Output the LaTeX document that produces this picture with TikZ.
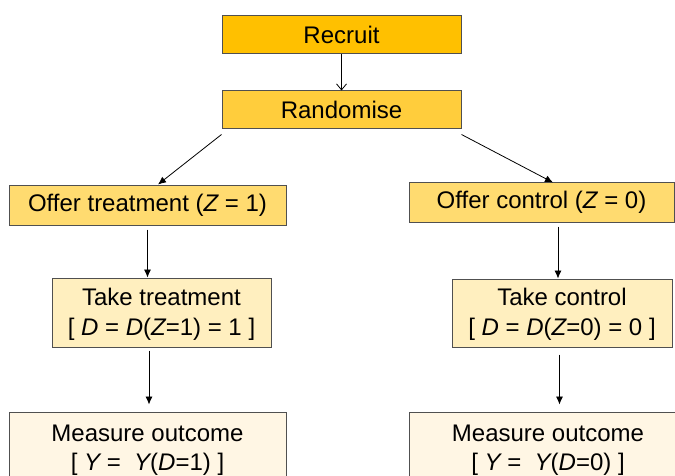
\documentclass[tikz,border=0pt]{standalone}
\usepackage{fontspec}
\setmainfont{Liberation Sans}
\usetikzlibrary{arrows.meta}
\definecolor{cRecruit}{HTML}{FFC000}
\definecolor{cRand}{HTML}{FFCD3C}
\definecolor{cOffer}{HTML}{FFDB70}
\definecolor{cTake}{HTML}{FFEFBF}
\definecolor{cMeas}{HTML}{FFF6E4}
\definecolor{boxline}{HTML}{505050}
\begin{document}
\begin{tikzpicture}[x=1pt,y=-1pt,
  txt/.style={inner sep=0pt, align=center, font=\fontsize{24}{29.5}\selectfont},
  box/.style={txt, draw=boxline, line width=1pt},
  arr/.style={draw=black, line width=0.8pt, -{Latex[length=8pt,width=7pt]}},
  openarr/.style={draw=black, line width=0.8pt, -{Straight Barb[length=6pt,width=10pt]}}]
\useasboundingbox (0,0) rectangle (675,476);
\clip (0,0) rectangle (675,476);
\node[box, fill=cRecruit, minimum width=239pt, minimum height=38pt] (rec) at (341.5,35) {Recruit};
\node[box, fill=cRand, minimum width=239pt, minimum height=38pt] (rand) at (341.5,110) {Randomise};
\node[box, fill=cOffer, minimum width=277pt, minimum height=39pt] (off1) at (147.5,205.5) {Offer treatment ({\itshape Z} = 1)};
\node[box, fill=cOffer, minimum width=265pt, minimum height=39pt] (off0) at (541.5,202.5) {Offer control ({\itshape Z} = 0)};
\node[box, fill=cTake, minimum width=219pt, minimum height=69pt] (take1) at (161.5,312.5) {};
\node[box, fill=cTake, minimum width=220pt, minimum height=68pt] (take0) at (562,313) {};
\node[txt, anchor=north] (t1t) at (161.5,288) {Take treatment\\\relax [ {\itshape D} = {\itshape D}({\itshape Z}=1) = 1 ]};
\node[txt, anchor=north] (t0t) at (562,288) {Take control\\\relax [ {\itshape D} = {\itshape D}({\itshape Z}=0) = 0 ]};
\node[box, fill=cMeas, minimum width=277pt, minimum height=74pt] (meas1) at (147.5,449) {};
\node[box, fill=cMeas, minimum width=282pt, minimum height=74pt] (meas0) at (550,449) {};
\node[txt, anchor=north] (m1t) at (147.5,424.5) {Measure outcome\\\relax [ {\itshape Y} =\ \ {\itshape Y}({\itshape D}=1) ]};
\node[txt, anchor=north] (m0t) at (548,424.5) {Measure outcome\\\relax [ {\itshape Y} =\ \ {\itshape Y}({\itshape D}=0) ]};
% connectors
\draw[openarr] (rec.south) -- (rand.north);
\draw[arr] ([yshift=-5pt]rand.south west) -- ([xshift=10.5pt,yshift=1pt]off1.north);
\draw[arr] ([yshift=-5pt]rand.south east) -- ([xshift=11.5pt]off0.north);
\draw[arr] ([yshift=-4pt]off1.south) -- (off1.south |- take1.north);
\draw[arr] ([xshift=-4pt,yshift=-4pt]take0.north |- off0.south) -- ([xshift=-4pt]take0.north);
\draw[arr] ([xshift=-12.5pt,yshift=-3pt]take1.south) -- ([xshift=-12.5pt,yshift=7pt]take1.south |- meas1.north);
\draw[arr] ([xshift=-2.5pt,yshift=-7pt]take0.south) -- ([xshift=-2.5pt,yshift=7pt]take0.south |- meas0.north);
\end{tikzpicture}
\end{document}
